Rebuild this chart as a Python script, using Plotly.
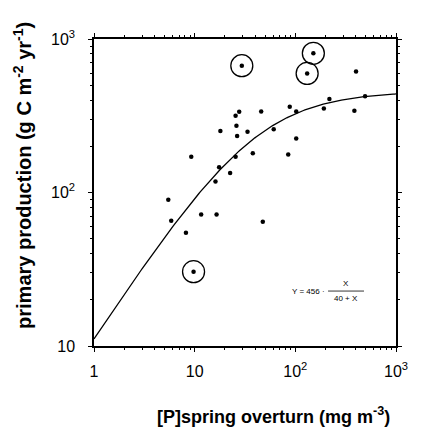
import numpy as np
import plotly.graph_objects as go

# Data
p_spring = [29.4, 151, 131, 401, 493, 218, 192, 386, 88, 102, 102, 85, 61, 45.8,
            27.7, 25.5, 26, 26.4, 18, 33.5, 37.8, 25.5, 9.25, 17.5, 22.5, 16.1,
            5.47, 5.85, 11.6, 16.5, 47.5, 8.19, 9.75]
production = [670, 807, 597, 615, 423, 406, 353, 341, 362, 337, 225, 177, 258, 337,
              336, 316, 272, 233, 252, 249, 180, 171, 171, 146, 134, 118,
              89.6, 65.4, 71.9, 71.9, 64.4, 54.6, 30.5]
circled_x = [29.4, 151, 131, 9.75]
circled_y = [670, 807, 597, 30.5]

# Fit: Y = Ymax * X / (K + X)
y_max = 456
k_half = 40
x_fit = np.logspace(0, 3, 200)
y_fit = y_max * x_fit / (k_half + x_fit)

x_tickvals = [1, 10, 100, 1000]
x_ticktext = ["1", "10", "10<sup>2</sup>", "10<sup>3</sup>"]
y_tickvals = [10, 100, 1000]
y_ticktext = ["10", "10<sup>2</sup>", "10<sup>3</sup>"]

x_minor = [m * 10 ** d for d in range(0, 3) for m in range(2, 10)]
y_minor = [m * 10 ** d for d in range(1, 3) for m in range(2, 10)]

fig = go.Figure()
fig.add_trace(go.Scatter(x=x_fit, y=y_fit, mode="lines",
                         line=dict(color="black", width=1.3), hoverinfo="skip"))
fig.add_trace(go.Scatter(x=p_spring, y=production, mode="markers",
                         marker=dict(color="black", size=4.5)))
fig.add_trace(go.Scatter(x=circled_x, y=circled_y, mode="markers",
                         marker=dict(color="black", size=22, symbol="circle-open",
                                     line=dict(color="black", width=1.3))))

font_family = "Liberation Sans, Arial, sans-serif"
axis_common = dict(
    type="log", showgrid=False, zeroline=False, showline=True, linecolor="black",
    linewidth=1.5, mirror="ticks", ticks="outside", ticklen=4, tickwidth=1.2,
    tickcolor="black",
    tickfont=dict(family=font_family, size=16, color="black"),
)

fig.update_layout(
    width=421, height=433,
    margin=dict(l=86, r=33, t=31, b=95),
    paper_bgcolor="white", plot_bgcolor="white",
    showlegend=False,
    xaxis=dict(range=[0, 3], tickvals=x_tickvals, ticktext=x_ticktext,
               ticklabelstandoff=6,
               minor=dict(tickvals=x_minor, ticks="outside", ticklen=2.5,
                          tickcolor="black", tickwidth=1, showgrid=False),
               **axis_common),
    yaxis=dict(range=[1, 3], tickvals=y_tickvals, ticktext=y_ticktext,
               ticklabelstandoff=10,
               minor=dict(tickvals=y_minor, ticks="outside", ticklen=2.5,
                          tickcolor="black", tickwidth=1, showgrid=False),
               **axis_common),
)

fig.add_annotation(text="<b>primary production (g C m<sup>-2</sup> yr<sup>-1</sup>)</b>",
                   xref="paper", yref="paper", x=-0.235, y=0.554, textangle=-90,
                   showarrow=False, xanchor="center", yanchor="middle",
                   font=dict(family=font_family, size=20, color="black"))
fig.add_annotation(text="<b>[P]spring overturn (mg m<sup>-3</sup>)</b>",
                   xref="paper", yref="paper", x=0.593, y=-0.228,
                   showarrow=False, xanchor="center", yanchor="middle",
                   font=dict(family=font_family, size=18, color="black"))

# equation label
fig.add_annotation(text="Y = 456 ·", xref="paper", yref="paper", x=0.772, y=0.179,
                   showarrow=False, xanchor="right", yanchor="middle",
                   font=dict(family=font_family, size=8, color="black"))
fig.add_annotation(text="X", xref="paper", yref="paper", x=0.834, y=0.183,
                   showarrow=False, xanchor="center", yanchor="bottom",
                   font=dict(family=font_family, size=8, color="black"))
fig.add_annotation(text="40 + X", xref="paper", yref="paper", x=0.834, y=0.175,
                   showarrow=False, xanchor="center", yanchor="top",
                   font=dict(family=font_family, size=8, color="black"))
fig.add_shape(type="line", xref="paper", yref="paper", x0=0.775, x1=0.894,
              y0=0.179, y1=0.179, line=dict(color="black", width=0.8))

fig.write_html("out.html")
